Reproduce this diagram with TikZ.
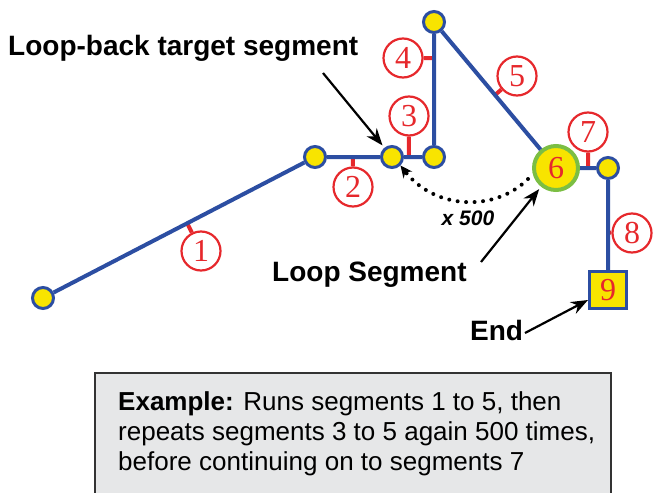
\documentclass[tikz,border=0pt]{standalone}
\usepackage{fontspec}
\setmainfont{Liberation Sans}
\newfontfamily\numfont{Liberation Serif}
\usetikzlibrary{arrows.meta,calc}
\definecolor{segblue}{HTML}{2C4EA2}
\definecolor{jyellow}{HTML}{F8E400}
\definecolor{numred}{HTML}{E6282C}
\definecolor{loopgreen}{HTML}{7BBE43}
\definecolor{boxgray}{HTML}{E6E7E8}
\definecolor{boxline}{HTML}{333333}
\tikzset{
  seg/.style={draw=segblue, line width=4pt},
  jn/.style={circle, fill=jyellow, draw=segblue, line width=3pt, minimum size=21pt, inner sep=0pt},
  loopnode/.style={circle, fill=jyellow, draw=loopgreen, line width=4pt, minimum size=44pt, inner sep=0pt, text=numred, font=\numfont\fontsize{32}{32}\selectfont},
  endnode/.style={rectangle, fill=jyellow, draw=segblue, line width=3pt, minimum size=37pt, inner sep=0pt, text=numred, font=\numfont\fontsize{32}{32}\selectfont},
  num/.style={circle, draw=numred, line width=2.2pt, minimum size=39pt, inner sep=0pt, text=numred, font=\numfont\fontsize{32}{32}\selectfont},
  tick/.style={draw=numred, line width=4pt},
  lbl/.style={font=\bfseries\fontsize{28}{30}\selectfont, inner sep=0pt},
  arr/.style={draw=black, line width=2.2pt, -{Stealth[length=17pt,width=13pt]}},
  dotarr/.style={draw=black, line width=4pt, line cap=round, dash pattern=on 0pt off 8.5pt, -{Stealth[length=12pt,width=11pt]}},
  notebox/.style={rectangle, draw=boxline, fill=boxgray, line width=2pt, inner sep=0pt},
}
\begin{document}
\begin{tikzpicture}[x=1pt,y=-1pt]
\useasboundingbox (0,0) rectangle (660,492);
\clip (0,0) rectangle (660,492);
% junctions
\node[jn] (n1) at (43,298) {};
\node[jn] (n2) at (315,157) {};
\node[jn] (n3) at (392,157) {};
\node[jn] (n4) at (434,157) {};
\node[jn] (n5) at (434,22) {};
\node[loopnode] (n6) at (556,168) {6};
\node[jn] (n7) at (608,168) {};
\node[endnode] (n9) at (608,290) {9};
% labels
\node[num] (l1) at (201,251) {1};
\node[num] (l2) at (353,187) {2};
\node[num] (l3) at (409,116) {3};
\node[num] (l4) at (403,58) {4};
\node[num] (l5) at (517,76) {5};
\node[num] (l7) at (588,132) {7};
\node[num] (l8) at (632,233) {8};
% tick points on segments
\coordinate (t1) at ($(n1)!0.53!(n2)$);
\coordinate (t2) at ($(n2)!0.49!(n3)$);
\coordinate (t3) at ($(n3)!0.4!(n4)$);
\coordinate (t4) at ($(n4)!0.733!(n5)$);
\coordinate (t5) at ($(n5)!0.5!(n6)$);
\coordinate (t7) at ($(n6)!0.62!(n7)$);
\coordinate (t8) at ($(n7)!0.53!(n9)$);
\foreach \i in {1,2,3,4,5,7,8} { \draw[tick] (t\i) -- (l\i); }
% segments
\draw[seg] (n1) -- (n2) -- (n3) -- (n4) -- (n5) -- (n6) -- (n7) -- (n9);
% texts
\node[lbl, anchor=base west] (tlb) at (8,56) {Loop-back target segment};
\node[lbl, anchor=base west] (tls) at (272,281) {Loop Segment};
\node[lbl, anchor=base west] (tend) at (470,340) {End};
\node[font=\bfseries\itshape\fontsize{21}{24}\selectfont, inner sep=0pt] (x500) at (468,218) {x 500};
% arrows
\coordinate (a1) at (323,73);
\coordinate (a2) at (481,262);
\coordinate (a3) at (525,333);
\draw[arr, shorten >=3pt] (a1) -- (n3);
\draw[arr, shorten >=3pt] (a2) -- (n6);
\draw[arr] (a3) -- ($(n9.west)!0.5!(n9.south west)$);
\coordinate (d0) at (528,179);
\draw[dotarr] (d0) .. controls (495,212) and (435,210) .. (n3.south east);
% note box
\node[notebox, anchor=north west, minimum width=516pt, minimum height=150pt] (box) at (94,372) {};
\node[anchor=north west, align=left, inner sep=0pt, font=\fontsize{26}{30}\selectfont] (note) at (118,391) {\textbf{Example:} Runs segments 1 to 5, then\\repeats segments 3 to 5 again 500 times,\\before continuing on to segments 7};
\end{tikzpicture}
\end{document}
